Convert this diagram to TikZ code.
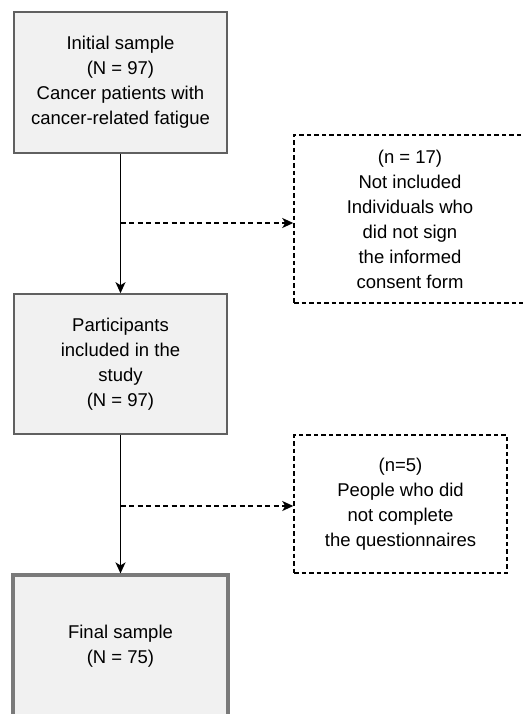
\documentclass[tikz,border=0pt]{standalone}
\usepackage{fontspec}
\setmainfont{Liberation Sans}
\usetikzlibrary{arrows.meta}
\definecolor{boxfill}{HTML}{F1F1F1}
\definecolor{boxline}{HTML}{606060}
\definecolor{finalline}{HTML}{7A7A7A}
\begin{document}
\begin{tikzpicture}[x=1pt,y=-1pt,
  every node/.style={font=\fontsize{18.5}{25}\selectfont, align=center, inner sep=0pt},
  solidbox/.style={draw=boxline, fill=boxfill, line width=1.6pt, rectangle},
  finalbox/.style={draw=finalline, fill=boxfill, line width=3.2pt, rectangle},
  dashbox/.style={draw=black, line width=1.5pt, dash pattern=on 4.5pt off 3pt, rectangle},
  mainarrow/.style={draw=black, line width=1.5pt, -{Stealth[length=11pt,width=10pt,inset=3pt]}},
  sidearrow/.style={draw=black, line width=1.5pt, dash pattern=on 5pt off 3.5pt, -{Stealth[length=11pt,width=10pt,inset=3pt]}}
]
\useasboundingbox (0,0) rectangle (522,714);
\fill[white] (0,0) rectangle (522,714);

\node[solidbox, minimum width=213pt, minimum height=141pt] (initial) at (120.5,82.5)
  {Initial sample\\(N = 97)\\Cancer patients with\\cancer-related fatigue};
\node[dashbox, minimum width=232pt, minimum height=168pt] (notinc) at (410,219)
  {(n = 17)\\Not included\\Individuals who\\did not sign\\the informed\\consent form};
\node[solidbox, minimum width=213pt, minimum height=140pt] (partic) at (120.5,364)
  {Participants\\included in the\\study\\(N = 97)};
\node[dashbox, minimum width=213pt, minimum height=138pt] (notcomp) at (400.5,504)
  {(n=5)\\People who did\\not complete\\the questionnaires};
\node[finalbox, minimum width=215pt, minimum height=142pt] (final) at (120.5,646)
  {Final sample\\(N = 75)};

\coordinate (c1) at (120.5,223);
\coordinate (c2) at (120.5,506);

\draw[mainarrow] (initial.south) -- (partic.north);
\draw[mainarrow] (partic.south) -- (final.north);
\draw[sidearrow] (c1) -- (c1 -| notinc.west);
\draw[sidearrow] (c2) -- (c2 -| notcomp.west);
\end{tikzpicture}
\end{document}
